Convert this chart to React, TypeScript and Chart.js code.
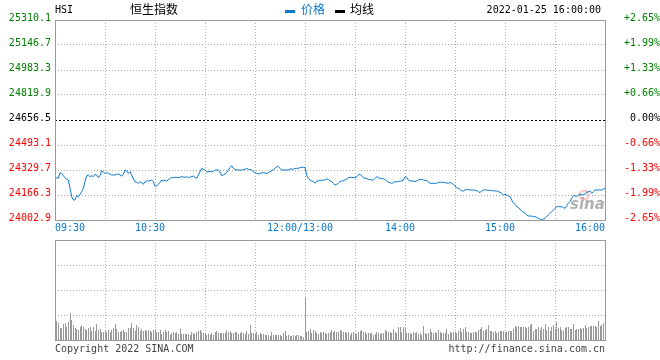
import React, { useEffect, useRef } from 'react';
import { Chart, registerables } from 'chart.js';

Chart.register(...registerables);

const symbol = 'HSI';
const indexName = '恒生指数';
const legendPrice = '价格';
const legendAvg = '均线';
const dateTimeText = '2022-01-25 16:00:00';
const copyrightText = 'Copyright 2022 SINA.COM';
const siteText = 'http://finance.sina.com.cn';

const prevClose = 24656.5;
const priceTicks = [24002.9, 24166.3, 24329.7, 24493.1, 24656.5, 24819.9, 24983.3, 25146.7, 25310.1];
const pctTicks = ['-2.65%', '-1.99%', '-1.33%', '-0.66%', '0.00%', '+0.66%', '+1.33%', '+1.99%', '+2.65%'];
const gridMinutes = [0, 30, 60, 90, 120, 150, 180, 210, 240, 270, 300, 330];
const volumeTicks = [0, 25, 50, 75, 100];
const timeLabels = ['09:30', '10:30', '12:00/13:00', '14:00', '15:00', '16:00'];
const timeLabelMinutes = [0, 60, 150, 210, 270, 330];

// one value per trading minute: 09:30..12:00 (0..150), 13:01..16:00 (151..330)
const prices = [
  24268.7, 24279.6, 24275.2, 24312.3, 24307.9, 24292.7, 24279.6, 24268.7, 24264.3, 24209.9,
  24155.4, 24133.6, 24133.6, 24161.9, 24155.4, 24170.7, 24188.1, 24209.9, 24253.4, 24292.7,
  24297.0, 24286.1, 24292.7, 24286.1, 24301.4, 24297.0, 24279.6, 24292.7, 24325.3, 24314.4,
  24307.9, 24312.3, 24307.9, 24303.6, 24297.0, 24297.0, 24297.0, 24301.4, 24303.6, 24297.0,
  24290.5, 24301.4, 24329.7, 24323.2, 24307.9, 24318.8, 24297.0, 24270.9, 24253.4, 24249.1,
  24242.6, 24253.4, 24246.9, 24236.0, 24253.4, 24257.8, 24257.8, 24260.0, 24264.3, 24253.4,
  24225.1, 24225.1, 24236.0, 24249.1, 24264.3, 24257.8, 24264.3, 24257.8, 24264.3, 24275.2,
  24279.6, 24279.6, 24281.8, 24281.8, 24279.6, 24281.8, 24286.1, 24284.0, 24281.8, 24286.1,
  24279.6, 24284.0, 24286.1, 24290.5, 24281.8, 24275.2, 24297.0, 24318.8, 24340.6, 24334.1,
  24329.7, 24318.8, 24318.8, 24318.8, 24318.8, 24318.8, 24329.7, 24329.7, 24329.7, 24318.8,
  24292.7, 24297.0, 24303.6, 24314.4, 24329.7, 24345.0, 24358.0, 24340.6, 24334.1, 24329.7,
  24329.7, 24329.7, 24329.7, 24331.9, 24334.1, 24340.6, 24334.1, 24331.9, 24329.7, 24318.8,
  24312.3, 24307.9, 24303.6, 24307.9, 24310.1, 24312.3, 24310.1, 24307.9, 24312.3, 24318.8,
  24325.3, 24331.9, 24340.6, 24351.5, 24351.5, 24340.6, 24329.7, 24329.7, 24329.7, 24329.7,
  24329.7, 24336.2, 24336.2, 24334.1, 24340.6, 24340.6, 24340.6, 24345.0, 24347.1, 24347.1, 24347.1,
  24297.0, 24275.2, 24264.3, 24257.8, 24253.4, 24242.6, 24257.8, 24257.8, 24264.3,
  24260.0, 24264.3, 24264.3, 24270.9, 24268.7, 24257.8, 24253.4, 24242.6, 24231.7, 24236.0,
  24242.6, 24253.4, 24257.8, 24260.0, 24264.3, 24270.9, 24279.6, 24281.8, 24281.8, 24279.6,
  24279.6, 24286.1, 24297.0, 24301.4, 24292.7, 24279.6, 24275.2, 24275.2, 24268.7, 24266.5,
  24264.3, 24264.3, 24275.2, 24286.1, 24279.6, 24275.2, 24275.2, 24270.9, 24268.7, 24257.8,
  24249.1, 24246.9, 24242.6, 24246.9, 24253.4, 24253.4, 24253.4, 24257.8, 24257.8, 24264.3,
  24286.1, 24281.8, 24264.3, 24257.8, 24257.8, 24257.8, 24253.4, 24257.8, 24264.3, 24268.7,
  24268.7, 24264.3, 24262.2, 24260.0, 24253.4, 24242.6, 24242.6, 24242.6, 24242.6, 24242.6,
  24249.1, 24249.1, 24249.1, 24249.1, 24246.9, 24244.7, 24242.6, 24249.1, 24242.6, 24236.0,
  24225.1, 24214.2, 24209.9, 24203.3, 24192.4, 24192.4, 24199.0, 24203.3, 24201.2, 24199.0,
  24199.0, 24199.0, 24196.8, 24194.6, 24188.1, 24181.6, 24192.4, 24199.0, 24199.0, 24199.0,
  24196.8, 24196.8, 24194.6, 24194.6, 24192.4, 24192.4, 24188.1, 24183.7, 24177.2, 24166.3,
  24170.7, 24166.3, 24161.9, 24155.4, 24133.6, 24116.2, 24105.3, 24090.0, 24085.7, 24072.6,
  24061.7, 24053.0, 24046.5, 24035.6, 24029.0, 24029.0, 24029.0, 24024.7, 24024.7, 24020.3,
  24013.8, 24009.4, 24002.9, 24007.3, 24013.8, 24024.7, 24035.6, 24046.5, 24057.4, 24068.3,
  24079.2, 24090.0, 24090.0, 24090.0, 24090.0, 24083.5, 24079.2, 24096.6, 24111.8, 24122.7,
  24144.5, 24161.9, 24161.9, 24155.4, 24166.3, 24170.7, 24166.3, 24170.7, 24170.7, 24183.7,
  24188.1, 24192.4, 24177.2, 24188.1, 24199.0, 24199.0, 24199.0, 24199.0, 24199.0, 24205.5, 24209.9,
];

// per-minute volume (relative units, axis top = 100)
const volumes = [
  18.3, 19.3, 17.3, 11.7, 11.7, 16, 16.7, 13.3, 17.7, 26.7,
  20, 15, 12.3, 10.7, 10, 12.7, 15, 13.3, 10.7, 10,
  11.7, 12.7, 9.3, 12.7, 9.3, 16, 10, 10.7, 8.3, 8.3,
  9, 8.3, 10, 8.3, 10, 11.7, 16, 10.7, 8.3, 8.3,
  9.3, 10, 8.3, 8.3, 11.7, 11.7, 16.7, 11.7, 9.3, 15,
  12.7, 9.3, 10.7, 9, 10, 9.3, 10, 9.3, 8.3, 10,
  10.7, 8.3, 8.3, 10, 6, 8.3, 10, 8.3, 9.3, 5,
  6.7, 7.7, 6.7, 7.7, 6, 10.7, 6, 6, 6, 6,
  6, 5, 8.3, 6.7, 6, 8.3, 9.3, 10, 7.7, 6.7,
  6.7, 5, 6, 5, 7.3, 5, 7.7, 9.3, 6.7, 6.7,
  6.7, 6.7, 6.7, 10, 7.7, 9, 6.7, 7.3, 8.3,
  8.3, 6, 7.3, 8.3, 6.7, 6, 9.3, 6, 15,
  6.7, 7.3, 6, 8.3, 5, 6.7, 6, 6, 5, 5,
  5, 4, 8.3, 5, 5, 5, 5, 5, 4, 6.7,
  9.3, 4, 5, 4, 4.3, 5, 4, 5, 5, 4,
  4, 3.3, 42.3, 8.3, 9.3, 11, 7.3, 10, 9, 6.7,
  6, 8.3, 7.3, 7.7, 6.7, 6, 7.3, 7.7, 10, 7.7,
  9.3, 7.7, 8.3, 10, 9.3, 8.3, 8.3, 6.7, 8.3, 5,
  6.7, 8.3, 7.3, 6, 8.3, 9.3, 10, 8.3, 7.7, 5.7,
  7.3, 7.3, 6.7, 5, 6, 8.3, 6.7, 6, 7.3, 6.7,
  10, 9.3, 8.3, 8.3, 7.3, 10.7, 8.3, 7.3, 12.7, 12.7,
  8.3, 12.7, 11.7, 7.3, 6.7, 6.7, 6, 8.3, 6.7, 8.3,
  6,
  7.3, 5, 14, 6.7, 6, 6.7, 10.7, 8.3, 6.7, 8.3,
  6.7, 10, 8.3, 6.7, 7.3, 6.7, 10.7, 6, 8.3, 7.3,
  8.3, 8.3, 7.3, 9.3, 11.7, 8.3, 10.7, 12.7, 8.3, 8.3,
  7.3, 7.3, 8.3, 8.3, 8.3, 10, 11, 12.7, 9.3, 10,
  10.7, 14.7, 9.3, 9.3, 8.3, 9, 7.3, 8, 9, 9,
  9, 8.3, 8.3, 9.3, 9.3, 9.3, 10.7, 14, 13.3, 14,
  12.7, 12.7, 13.3, 12.7, 11.7, 12.7, 15, 16, 9.3, 10.7,
  10.7, 12.7, 10, 12.7, 10.7, 15.7, 10, 12.7, 9.3, 12.7,
  15, 10.7, 18.3, 11.7, 12.7, 10, 9.3, 11.7, 13.3, 12.7,
  10.7, 10.7, 16, 10, 10.7, 10.7, 11.7, 10.7, 11.7, 15,
  11.7, 12.7, 14, 14, 14, 14, 12.7, 19, 14, 15,
  16.7, 25,
];

const MONO = '"DejaVu Sans Mono", "Liberation Mono", monospace';
const CJK = '"Noto Sans CJK SC", "Noto Sans", sans-serif';
const GRID = '#aaaaaa';
const FRAME = '#999999';
const LINE = '#0a78cc';
const BLUE_TEXT = '#0a78d0';
const GREEN = '#008000';
const RED = '#ff0000';

function valueColor(v: number) {
  if (Math.abs(v - prevClose) < 0.01) return '#000000';
  return v > prevClose ? GREEN : RED;
}

function drawFrame(chart: any) {
  const { ctx, chartArea } = chart;
  ctx.save();
  ctx.strokeStyle = FRAME;
  ctx.lineWidth = 1;
  ctx.setLineDash([]);
  const l = Math.round(chartArea.left) + 0.5;
  const t = Math.round(chartArea.top) + 0.5;
  const r = Math.round(chartArea.right) + 0.5;
  const b = Math.round(chartArea.bottom) + 0.5;
  ctx.strokeRect(l, t, r - l, b - t);
  ctx.restore();
}

const priceOverlay = {
  id: 'priceOverlay',
  beforeDatasetsDraw(chart: any) {
    const { ctx } = chart;
    ctx.save();
    // sina watermark
    ctx.strokeStyle = 'rgba(230,120,120,0.45)';
    ctx.lineWidth = 2;
    ctx.beginPath();
    ctx.arc(584, 195, 4.5, 0, Math.PI * 2);
    ctx.stroke();
    ctx.fillStyle = 'rgba(150,150,150,0.75)';
    ctx.font = 'italic bold 15px "DejaVu Sans", sans-serif';
    ctx.textAlign = 'left';
    ctx.textBaseline = 'alphabetic';
    ctx.fillText('sina', 570, 209);
    ctx.restore();
  },
  afterDraw(chart: any) {
    const { ctx } = chart;
    const xs = chart.scales.x;
    drawFrame(chart);
    ctx.save();
    ctx.textBaseline = 'alphabetic';
    // header
    ctx.font = `10px ${MONO}`;
    ctx.fillStyle = '#000';
    ctx.textAlign = 'left';
    ctx.fillText(symbol, 55, 13);
    ctx.textAlign = 'right';
    ctx.fillText(dateTimeText, 601, 13);
    ctx.textAlign = 'left';
    ctx.font = `12px ${CJK}`;
    ctx.fillText(indexName, 130, 14);
    ctx.fillStyle = LINE;
    ctx.fillRect(285, 10, 10, 3);
    ctx.fillStyle = BLUE_TEXT;
    ctx.fillText(legendPrice, 301, 14);
    ctx.fillStyle = '#000';
    ctx.fillRect(335, 10, 10, 3);
    ctx.fillText(legendAvg, 350, 14);
    // time labels
    ctx.font = `10px ${MONO}`;
    ctx.fillStyle = BLUE_TEXT;
    timeLabels.forEach((lab, i) => {
      const px = xs.getPixelForValue(timeLabelMinutes[i]);
      if (i === 0) {
        ctx.textAlign = 'left';
        ctx.fillText(lab, px, 231);
      } else if (i === timeLabels.length - 1) {
        ctx.textAlign = 'right';
        ctx.fillText(lab, px, 231);
      } else {
        ctx.textAlign = 'center';
        ctx.fillText(lab, px - 5, 231);
      }
    });
    ctx.restore();
  },
};

const volumeOverlay = {
  id: 'volumeOverlay',
  beforeDatasetsDraw(chart: any) {
    // snap each 1px bar onto a whole pixel column so it renders crisp
    const meta = chart.getDatasetMeta(0);
    meta.data.forEach((el: any) => {
      el.x = Math.floor(el.x) + 0.5;
      el.y = Math.round(el.y);
      el.base = Math.round(el.base);
    });
  },
  afterDraw(chart: any) {
    const { ctx, chartArea } = chart;
    drawFrame(chart);
    ctx.save();
    ctx.font = `10px ${MONO}`;
    ctx.fillStyle = '#444';
    ctx.textBaseline = 'alphabetic';
    ctx.textAlign = 'left';
    ctx.fillText(copyrightText, chartArea.left, 117);
    ctx.textAlign = 'right';
    ctx.fillText(siteText, chartArea.right, 117);
    ctx.restore();
  },
};

export default function App() {
  const topRef = useRef<HTMLCanvasElement>(null);
  const botRef = useRef<HTMLCanvasElement>(null);

  useEffect(() => {
    const tickFont = { family: MONO, size: 10 };
    const priceChart = new Chart(topRef.current as HTMLCanvasElement, {
      type: 'line',
      data: {
        datasets: [
          {
            data: prices.map((p, i) => ({ x: i, y: p })),
            borderColor: LINE,
            borderWidth: 1,
            pointRadius: 0,
            tension: 0,
            fill: false,
          },
        ],
      },
      options: {
        animation: false,
        responsive: false,
        devicePixelRatio: 1,
        events: [],
        layout: { padding: { top: 20, left: 0, right: 0, bottom: 0 } },
        plugins: { legend: { display: false }, tooltip: { enabled: false } },
        scales: {
          x: {
            type: 'linear',
            min: 0,
            max: 330,
            afterBuildTicks: (s: any) => { s.ticks = gridMinutes.map((v) => ({ value: v })); },
            afterFit: (s: any) => { s.height = 15; },
            ticks: { display: false },
            grid: { color: GRID, lineWidth: 1, drawTicks: false },
            border: { display: false, dash: [1, 2] },
          },
          y: {
            position: 'left',
            min: priceTicks[0],
            max: priceTicks[priceTicks.length - 1],
            afterBuildTicks: (s: any) => { s.ticks = priceTicks.map((v) => ({ value: v })); },
            afterFit: (s: any) => { s.width = 55; },
            ticks: {
              autoSkip: false,
              font: tickFont,
              padding: 4,
              labelOffset: -2,
              color: (c: any) => valueColor(c.tick.value),
              callback: (v: any) => Number(v).toFixed(1),
            },
            grid: {
              drawTicks: false,
              lineWidth: 1,
              color: (c: any) => (c.tick && Math.abs(c.tick.value - prevClose) < 0.01 ? '#000000' : GRID),
            },
            border: {
              display: false,
              dash: (c: any) => (c.tick && Math.abs(c.tick.value - prevClose) < 0.01 ? [2, 2] : [1, 2]),
            },
          },
          y2: {
            position: 'right',
            min: priceTicks[0],
            max: priceTicks[priceTicks.length - 1],
            afterBuildTicks: (s: any) => { s.ticks = priceTicks.map((v) => ({ value: v })); },
            afterFit: (s: any) => { s.width = 55; },
            ticks: {
              autoSkip: false,
              font: tickFont,
              padding: 1,
              labelOffset: -2,
              crossAlign: 'far',
              color: (c: any) => valueColor(c.tick.value),
              callback: (_v: any, i: number) => pctTicks[i],
            },
            grid: { drawOnChartArea: false, drawTicks: false },
            border: { display: false },
          },
        },
      } as any,
      plugins: [priceOverlay],
    });

    const volumeChart = new Chart(botRef.current as HTMLCanvasElement, {
      type: 'bar',
      data: {
        datasets: [
          {
            data: volumes.map((v, i) => ({ x: i, y: v })),
            backgroundColor: '#999999',
            borderWidth: 0,
            barThickness: 1,
            inflateAmount: 0,
          },
        ],
      },
      options: {
        animation: false,
        responsive: false,
        devicePixelRatio: 1,
        events: [],
        layout: { padding: { top: 5, left: 0, right: 55, bottom: 0 } },
        plugins: { legend: { display: false }, tooltip: { enabled: false } },
        scales: {
          x: {
            type: 'linear',
            min: 0,
            max: 330,
            offset: false,
            afterBuildTicks: (s: any) => { s.ticks = gridMinutes.map((v) => ({ value: v })); },
            afterFit: (s: any) => { s.height = 20; },
            ticks: { display: false },
            grid: { color: GRID, lineWidth: 1, drawTicks: false, offset: false },
            border: { display: false, dash: [1, 2] },
          },
          y: {
            position: 'left',
            min: 0,
            max: 100,
            afterBuildTicks: (s: any) => { s.ticks = volumeTicks.map((v) => ({ value: v })); },
            afterFit: (s: any) => { s.width = 55; },
            ticks: { display: false },
            grid: { color: GRID, lineWidth: 1, drawTicks: false },
            border: { display: false, dash: [1, 2] },
          },
        },
      } as any,
      plugins: [volumeOverlay],
    });

    return () => {
      priceChart.destroy();
      volumeChart.destroy();
    };
  }, []);

  return (
    <div style={{ position: 'absolute', left: 0, top: 0, width: 660, height: 360, background: '#fff' }}>
      <canvas ref={topRef} width={660} height={235} style={{ position: 'absolute', left: 0, top: 0, width: 660, height: 235 }} />
      <canvas ref={botRef} width={660} height={125} style={{ position: 'absolute', left: 0, top: 235, width: 660, height: 125 }} />
    </div>
  );
}
